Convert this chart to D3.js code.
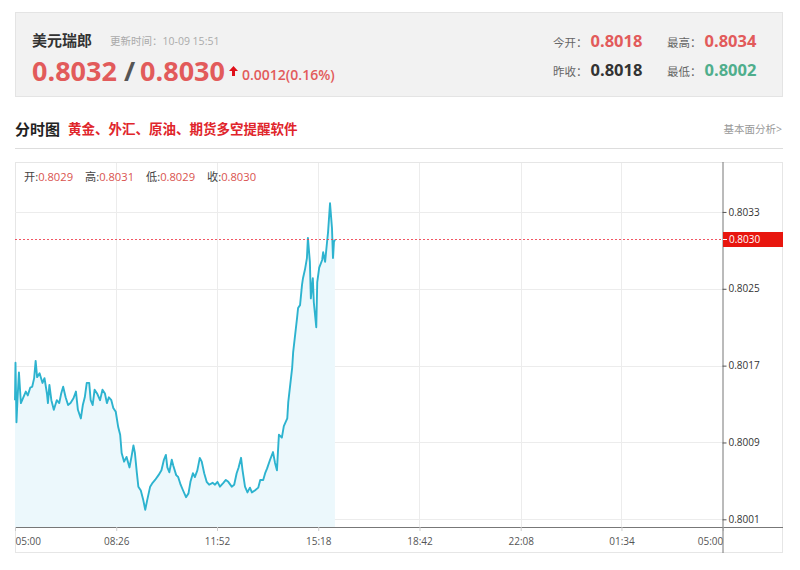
<!DOCTYPE html>
<html><head><meta charset="utf-8">
<script src="https://cdn.jsdelivr.net/npm/d3@7"></script>
<style>
body{margin:0;background:#fff;}
text{font-family:"Open Sans","Noto Sans CJK SC",sans-serif;}
</style></head>
<body>
<svg id="c" width="800" height="570"></svg>
<script>
// ---- data ----
const symbolName = "美元瑞郎";
const updateTime = "更新时间：10-09 15:51";
const bidPrice = "0.8032", askPrice = "0.8030";
const change = "0.0012(0.16%)";
const statLabels = ["今开：", "最高：", "昨收：", "最低："];
const statValues = ["0.8018", "0.8034", "0.8018", "0.8002"];
const ohlcLabels = ["开:", "高:", "低:", "收:"];
const ohlcValues = ["0.8029", "0.8031", "0.8029", "0.8030"];
const lastPrice = 0.8030;
const xTickMinutes = [0, 206, 411, 617, 823, 1029, 1234, 1440];
const xTickLabels = ["05:00", "08:26", "11:52", "15:18", "18:42", "22:08", "01:34", "05:00"];
const yTickValues = [0.8001, 0.8009, 0.8017, 0.8025, 0.8033];
const yTickLabels = ["0.8001", "0.8009", "0.8017", "0.8025", "0.8033"];
// minutes since 05:00
const minutes = [
  0,1,3,5,8,12,17,22,26,31,
  35,39,42,45,50,56,60,65,67,70,
  74,79,85,90,94,98,103,108,113,119,
  124,128,134,138,142,146,151,154,158,162,
  167,173,178,183,187,191,196,200,205,210,
  214,217,222,227,233,237,241,244,248,251,
  256,261,265,269,275,280,285,292,298,303,
  307,310,314,319,322,328,332,337,342,348,
  353,357,362,366,371,376,380,385,390,395,
  402,407,412,417,424,429,434,441,446,451,
  455,460,463,468,473,478,482,488,495,499,
  505,509,513,519,525,529,533,535,537,543,
  547,554,556,560,564,566,570,574,576,580,
  584,586,590,594,596,600,602,606,608,613,
  615,619,625,627,631,635,637,641,645,647,
  649,651];
const prices = [
  0.80134,0.80173,0.80111,0.80134,0.80163,0.80131,0.80137,0.80143,0.80139,0.80147,
  0.80148,0.80157,0.80175,0.80158,0.80162,0.80152,0.80157,0.80141,0.80131,0.80150,
  0.80134,0.80124,0.80134,0.80131,0.80141,0.80148,0.80137,0.80129,0.80131,0.80136,
  0.80143,0.80124,0.80115,0.80129,0.80137,0.80152,0.80152,0.80134,0.80129,0.80145,
  0.80141,0.80134,0.80145,0.80141,0.80131,0.80137,0.80134,0.80126,0.80122,0.80106,
  0.80098,0.80079,0.80070,0.80075,0.80064,0.80075,0.80087,0.80079,0.80058,0.80044,
  0.80040,0.80030,0.80020,0.80030,0.80044,0.80048,0.80051,0.80056,0.80061,0.80072,
  0.80077,0.80064,0.80059,0.80072,0.80066,0.80056,0.80054,0.80046,0.80040,0.80033,
  0.80037,0.80049,0.80058,0.80054,0.80061,0.80074,0.80070,0.80058,0.80049,0.80046,
  0.80048,0.80046,0.80049,0.80044,0.80048,0.80051,0.80049,0.80044,0.80046,0.80058,
  0.80064,0.80074,0.80061,0.80044,0.80038,0.80043,0.80038,0.80040,0.80043,0.80051,
  0.80051,0.80058,0.80063,0.80072,0.80080,0.80069,0.80061,0.80080,0.80098,0.80095,
  0.80107,0.80115,0.80132,0.80150,0.80168,0.80184,0.80202,0.80220,0.80230,0.80233,
  0.80254,0.80261,0.80270,0.80282,0.80303,0.80278,0.80240,0.80261,0.80236,0.80210,
  0.80257,0.80272,0.80280,0.80288,0.80278,0.80299,0.80309,0.80339,0.80313,0.80282,
  0.80299,0.80301];

const svg = d3.select("#c");
const RED = "#e25b5b";

// ---- header box ----
svg.append("rect").attr("x",15.5).attr("y",12.5).attr("width",767).attr("height",84)
  .attr("fill","#f2f2f2").attr("stroke","#e4e4e4");
svg.append("text").attr("x",32).attr("y",46).attr("font-size",15).attr("font-weight","bold")
  .attr("fill","#333").style("font-family","'Noto Sans CJK SC'").text(symbolName);
svg.append("text").attr("x",110).attr("y",45).attr("font-size",10.5).attr("fill","#aaa").text(updateTime);
const pt = svg.append("text").attr("x",32).attr("y",81).attr("font-size",27).attr("font-weight","bold");
pt.append("tspan").attr("fill",RED).text(bidPrice);
pt.append("tspan").attr("fill","#555").text(" / ");
pt.append("tspan").attr("fill",RED).attr("dx",-2).text(askPrice);
svg.append("path").attr("d","M233.5,66 L238,71 L235,71 L235,76 L232,76 L232,71 L229,71 Z").attr("fill","#e0101a");
svg.append("text").attr("x",242).attr("y",80).attr("font-size",14).attr("font-weight",600).attr("fill",RED).text(change);
const statX = [553, 667, 553, 667], statY = [47, 47, 76, 76];
const statColors = [RED, RED, "#333", "#4fae8c"];
statLabels.forEach((l,i)=>{
  const t = svg.append("text").attr("x",statX[i]).attr("y",statY[i]);
  t.append("tspan").attr("font-size",11.5).attr("fill","#666").text(l);
  t.append("tspan").attr("dx",3).attr("font-size",16.5).attr("font-weight","bold").attr("fill",statColors[i]).text(statValues[i]);
});

// ---- section title ----
svg.append("text").attr("x",15).attr("y",135).attr("font-size",15).attr("font-weight","bold").attr("fill","#222")
  .style("font-family","'Noto Sans CJK SC'").text("分时图");
svg.append("text").attr("x",68).attr("y",134).attr("font-size",13.5).attr("font-weight","bold").attr("fill","#e0252b")
  .style("font-family","'Noto Sans CJK SC'").text("黄金、外汇、原油、期货多空提醒软件");
svg.append("text").attr("x",782).attr("y",133).attr("text-anchor","end").attr("font-size",10.5).attr("fill","#999").text("基本面分析>");
svg.append("line").attr("x1",15).attr("x2",783).attr("y1",148.5).attr("y2",148.5).attr("stroke","#ddd");

// ---- chart panel ----
svg.append("rect").attr("x",15.5).attr("y",162.5).attr("width",767).attr("height",390)
  .attr("fill","none").attr("stroke","#e6e6e6");

const x = d3.scaleLinear().domain([0,1440]).range([15,722.7]);
const y = d3.scaleLinear().domain([0.80002,0.80382]).range([527,162]);

const g = svg.append("g");
// grid
g.selectAll(".vg").data(xTickMinutes.slice(1,-1)).join("line")
  .attr("x1",d=>Math.round(x(d))+0.5).attr("x2",d=>Math.round(x(d))+0.5).attr("y1",163).attr("y2",527)
  .attr("stroke","#ececec");
g.selectAll(".hg").data(yTickValues).join("line")
  .attr("x1",15).attr("x2",722).attr("y1",d=>Math.round(y(d))+0.5).attr("y2",d=>Math.round(y(d))+0.5)
  .attr("stroke","#ececec");

// area + line
const data = minutes.map((m,i)=>({m, p:prices[i]}));
g.append("path").datum(data)
  .attr("d", d3.area().x(d=>x(d.m)).y0(y.range()[0]).y1(d=>y(d.p)))
  .attr("fill","#ecf8fc");
g.append("path").datum(data)
  .attr("d", d3.line().x(d=>x(d.m)).y(d=>y(d.p)))
  .attr("fill","none").attr("stroke","#2db3cf").attr("stroke-width",1.9).attr("stroke-linejoin","round");

// last price dashed line
const ly = Math.round(y(lastPrice))-1.5;
g.append("line").attr("x1",15).attr("x2",722).attr("y1",ly).attr("y2",ly)
  .attr("stroke","#ee3a4a").attr("stroke-width",1).attr("stroke-dasharray","2,2").attr("opacity",0.85);

// axes
const xAxis = d3.axisBottom(x).tickValues(xTickMinutes).tickFormat((d,i)=>xTickLabels[i]).tickSize(4).tickSizeOuter(0);
const xg = svg.append("g").attr("transform","translate(0,527)").call(xAxis);
xg.select(".domain").attr("stroke","#777").attr("d","M15,0.5H783");
xg.selectAll(".tick line").attr("stroke","#ccc");
xg.selectAll(".tick text").attr("font-size",10).attr("fill","#555").attr("dy","1.1em")
  .style("font-family","'Open Sans'")
  .attr("text-anchor",(d,i)=> i===0 ? "start" : (i===xTickLabels.length-1 ? "end" : "middle"));

const yAxis = d3.axisRight(y).tickValues(yTickValues).tickFormat((d,i)=>yTickLabels[i]).tickSize(4).tickSizeOuter(0);
const yg = svg.append("g").attr("transform","translate(722.5,0)").call(yAxis);
yg.select(".domain").attr("stroke","#777").attr("d","M0.5,162V553");
yg.selectAll(".tick line").attr("stroke","#555");
yg.selectAll(".tick text").attr("font-size",10).attr("fill","#333").attr("x",6).style("font-family","'Open Sans'");

// last price tag
svg.append("rect").attr("x",723).attr("y",ly-7.5).attr("width",60).attr("height",15).attr("fill","#e8160e");
svg.append("line").attr("x1",723).attr("x2",727).attr("y1",ly).attr("y2",ly).attr("stroke","#fff");
svg.append("text").attr("x",729).attr("y",ly+3.5).attr("font-size",10).attr("fill","#fff").text(d3.format(".4f")(lastPrice));

// OHLC
const ox = [24, 85, 146, 207];
ohlcLabels.forEach((l,i)=>{
  const t = svg.append("text").attr("x",ox[i]).attr("y",181).attr("font-size",11.2);
  t.append("tspan").attr("fill","#444").text(l);
  t.append("tspan").attr("fill","#d9534f").text(ohlcValues[i]);
});
</script>
</body></html>
